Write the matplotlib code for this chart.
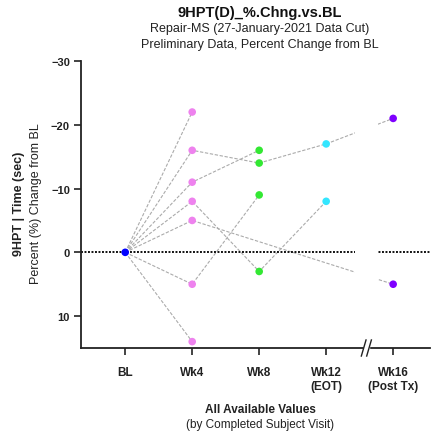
import numpy as np
import matplotlib.pyplot as plt

plt.rcParams['font.family'] = ['Liberation Sans', 'DejaVu Sans']

# visits on the x axis
visits = ['BL', 'Wk4', 'Wk8', 'Wk12\n(EOT)', 'Wk16\n(Post Tx)']
visit_colors = ['#0000ff', '#ee82ee', '#33e833', '#33e6ff', '#7f00ff']

# percent change from BL per subject (nan = no visit)
nan = np.nan
subj1 = [0, -22, nan, nan, nan]
subj2 = [0, -16, -14, -17, -21]
subj3 = [0, -11, -16, nan, nan]
subj4 = [0, -8, 3, -8, nan]
subj5 = [0, -5, nan, nan, 5]
subj6 = [0, 5, -9, nan, nan]
subj7 = [0, 14, nan, nan, nan]
subjects = [subj1, subj2, subj3, subj4, subj5, subj6, subj7]

yticks = [-30, -20, -10, 0, 10]

fig = plt.figure(figsize=(4.33, 4.39), dpi=100)
ax = fig.add_axes([81 / 433, 1 - 349 / 439, 349 / 433, 287 / 439])

x = np.arange(len(visits))
xlo, xhi = -0.66, 4.55
gap_lo, gap_hi = 3.43, 3.78

# subject lines
for s in subjects:
    s = np.array(s, dtype=float)
    ok = ~np.isnan(s)
    ax.plot(x[ok], s[ok], color='#ababab', lw=0.8, ls=(0, (3, 1.5)), zorder=2)

# zero reference line
ax.plot([xlo, xhi], [0, 0], color='#111111', lw=1.4, ls=(0, (1, 0.8)), zorder=2.2)

# white gap for the axis break
ax.axvspan(gap_lo, gap_hi, ymin=0.004, ymax=1, color='white', zorder=2.5, lw=0)

# points per visit
for i in range(len(visits)):
    vals = [s[i] for s in subjects if not np.isnan(s[i])]
    vals = sorted(set(vals))
    ax.scatter([x[i]] * len(vals), vals, s=30, color=visit_colors[i],
               edgecolors='none', zorder=3)

ax.set_xlim(xlo, xhi)
ax.set_ylim(15, -30)
ax.set_yticks(yticks)
ax.set_xticks(x)
ax.set_xticklabels(visits, fontweight='bold', fontsize=8.5, color='#222222')
for lab in ax.get_yticklabels():
    lab.set_fontweight('bold')
    lab.set_fontsize(8)
    lab.set_color('#222222')
ax.tick_params(direction='out', length=5, width=1.2, pad=3, color='#222222')
ax.tick_params(axis='x', pad=8)

for side in ['top', 'right']:
    ax.spines[side].set_visible(False)
for side in ['left', 'bottom']:
    ax.spines[side].set_linewidth(1.3)
    ax.spines[side].set_color('#222222')

# break marks on x axis
bx = 3.6
trans = ax.get_xaxis_transform()
ax.fill_between([bx - 0.035, bx + 0.035], -0.01, 0.01, color='white',
                transform=trans, zorder=4, clip_on=False)
for dx in (-0.04, 0.04):
    ax.plot([bx + dx - 0.035, bx + dx + 0.035], [-0.028, 0.028], color='#222222',
            lw=1.0, transform=trans, clip_on=False, zorder=5)

# titles
cx = 260 / 433
fig.text(cx, 1 - 13 / 439, '9HPT(D)_%.Chng.vs.BL', ha='center', va='center',
         fontsize=10.5, fontweight='bold', color='#111111')
fig.text(cx, 1 - 29 / 439, 'Repair-MS (27-January-2021 Data Cut)', ha='center',
         va='center', fontsize=9, color='#222222')
fig.text(cx, 1 - 45 / 439, 'Preliminary Data, Percent Change from BL', ha='center',
         va='center', fontsize=9, color='#222222')

# y label
fig.text(19 / 433, 1 - 204 / 439, '9HPT | Time (sec)', rotation=90, ha='center',
         va='center', fontsize=9, fontweight='bold', color='#222222')
fig.text(36 / 433, 1 - 204 / 439, 'Percent (%) Change from BL', rotation=90,
         ha='center', va='center', fontsize=9, color='#222222')

# x label
fig.text(cx, 1 - 410 / 439, 'All Available Values', ha='center', va='center',
         fontsize=8.5, fontweight='bold', color='#222222')
fig.text(cx, 1 - 425 / 439, '(by Completed Subject Visit)', ha='center',
         va='center', fontsize=8.5, color='#222222')

fig.savefig('out.png', dpi=100)
